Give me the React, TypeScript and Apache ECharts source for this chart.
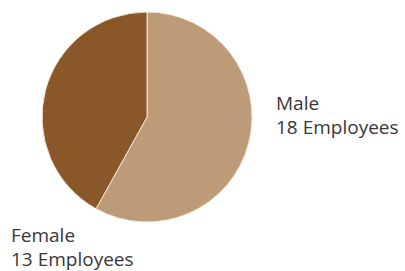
import React, { useEffect, useRef } from "react";
import * as echarts from "echarts";

const categories = ["Male", "Female"];
const values = [18, 13];
const colors = ["#BE9B78", "#8A5828"];

export default function App() {
  const ref = useRef<HTMLDivElement>(null);
  useEffect(() => {
    const chart = echarts.init(ref.current!, null, { renderer: "svg" });
    const labelPos: Record<string, { x: number; y: number }> = {
      Male: { x: 276, y: 115 },
      Female: { x: 11, y: 247 },
    };
    chart.setOption({
      animation: false,
      graphic: categories.map((c, i) => ({
        type: "text",
        x: labelPos[c].x,
        y: labelPos[c].y,
        silent: true,
        style: {
          text: `${c}\n${values[i]} Employees`,
          fontFamily: "Open Sans",
          fontSize: 19,
          lineHeight: 24,
          fill: "#383838",
          align: "left",
          verticalAlign: "middle",
        },
      })),
      series: [
        {
          type: "pie",
          center: [147, 117],
          radius: [0, 105],
          startAngle: 90,
          clockwise: true,
          silent: true,
          itemStyle: { borderColor: "#f4e6d6", borderWidth: 1 },
          label: { show: false },
          labelLine: { show: false },
          data: categories.map((c, i) => ({
            name: c,
            value: values[i],
            itemStyle: { color: colors[i] },
          })),
        },
      ],
    });
    return () => chart.dispose();
  }, []);
  return (
    <div
      ref={ref}
      style={{ position: "absolute", left: 0, top: 0, width: 405, height: 271, background: "#fff" }}
    />
  );
}
